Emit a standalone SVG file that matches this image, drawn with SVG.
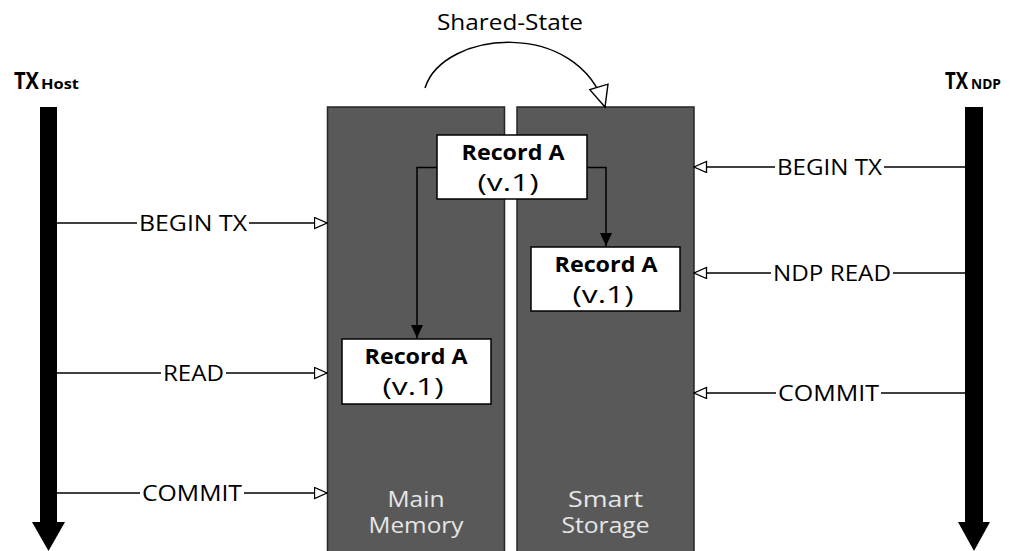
<svg xmlns="http://www.w3.org/2000/svg" width="1010" height="551" viewBox="0 0 1010 551">
  <defs>
    <style>
      .lbl { font-family: "Open Sans", "Noto Sans", sans-serif; font-size: 21px; fill: #000; }
      .store { fill: #595959; stroke: #262626; stroke-width: 1.5; }
      .storetxt { font-family: "Open Sans", "Noto Sans", sans-serif; font-size: 21px; fill: #e6e6e6; text-anchor: middle; }
      .rec { fill: #fff; stroke: #000; stroke-width: 1.5; }
      .rectitle { font-family: "Open Sans", "Noto Sans", sans-serif; font-size: 22px; font-weight: bold; text-anchor: middle; }
      .recver { font-family: "Open Sans", "Noto Sans", sans-serif; font-size: 24px; text-anchor: middle; }
      .txname { font-family: "Open Sans", "Noto Sans", sans-serif; font-weight: bold; }
      .wire { fill: none; stroke: #000; stroke-width: 1.5; }
      .open { marker-end: url(#openHead); }
      .solid { marker-end: url(#solidHead); }
    </style>
    <marker id="openHead" markerUnits="userSpaceOnUse" markerWidth="15" markerHeight="13" refX="13.5" refY="6" orient="auto">
      <path d="M1,0.5 L13.5,6 L1,11.5 Z" fill="#fff" stroke="#000" stroke-width="1.3"/>
    </marker>
    <marker id="solidHead" markerUnits="userSpaceOnUse" markerWidth="14" markerHeight="14" refX="13" refY="6.5" orient="auto">
      <path d="M0,0.5 L13,6.5 L0,12.5 Z" fill="#000"/>
    </marker>
    <marker id="bigOpenHead" markerUnits="userSpaceOnUse" markerWidth="24" markerHeight="22" refX="22" refY="10.5" orient="auto">
      <path d="M1,1 L22,10.5 L1,20 Z" fill="#fff" stroke="#000" stroke-width="1.4"/>
    </marker>
  </defs>

  <rect width="1010" height="551" fill="#fff"/>

  <!-- storage columns -->
  <g id="main-memory">
    <rect class="store" x="327.5" y="107" width="177" height="450"/>
    <text class="storetxt" x="416" y="507" textLength="57" lengthAdjust="spacingAndGlyphs">Main</text>
    <text class="storetxt" x="416" y="533" textLength="95" lengthAdjust="spacingAndGlyphs">Memory</text>
  </g>
  <g id="smart-storage">
    <rect class="store" x="517" y="107" width="177" height="450"/>
    <text class="storetxt" x="605.5" y="507" textLength="75" lengthAdjust="spacingAndGlyphs">Smart</text>
    <text class="storetxt" x="605.5" y="533" textLength="88" lengthAdjust="spacingAndGlyphs">Storage</text>
  </g>

  <!-- transaction timelines -->
  <g id="tx-host">
    <text class="txname" x="14" y="89" font-size="23" textLength="25" lengthAdjust="spacingAndGlyphs">TX</text>
    <text class="txname" x="41" y="89" font-size="15" textLength="38" lengthAdjust="spacingAndGlyphs">Host</text>
    <rect x="40" y="107" width="17" height="416" fill="#000"/>
    <polygon points="32,522 65,522 48.5,551" fill="#000"/>
  </g>
  <g id="tx-ndp">
    <text class="txname" x="945" y="89" font-size="23" textLength="23" lengthAdjust="spacingAndGlyphs">TX</text>
    <text class="txname" x="971" y="89" font-size="15" textLength="30" lengthAdjust="spacingAndGlyphs">NDP</text>
    <rect x="965" y="107" width="18" height="416" fill="#000"/>
    <polygon points="958,522 990,522 974,551" fill="#000"/>
  </g>

  <!-- record copies -->
  <g id="record-shared">
    <rect class="rec" x="437" y="135" width="150" height="64"/>
    <text class="rectitle" x="513" y="160" textLength="103" lengthAdjust="spacingAndGlyphs">Record A</text>
    <text class="recver" x="508" y="191" textLength="61" lengthAdjust="spacingAndGlyphs">(v.1)</text>
  </g>
  <g id="record-storage">
    <rect class="rec" x="531" y="247" width="149" height="64"/>
    <text class="rectitle" x="606" y="272" textLength="103" lengthAdjust="spacingAndGlyphs">Record A</text>
    <text class="recver" x="603" y="303" textLength="61" lengthAdjust="spacingAndGlyphs">(v.1)</text>
  </g>
  <g id="record-memory">
    <rect class="rec" x="342" y="339" width="149" height="65"/>
    <text class="rectitle" x="416" y="364" textLength="103" lengthAdjust="spacingAndGlyphs">Record A</text>
    <text class="recver" x="413" y="395" textLength="61" lengthAdjust="spacingAndGlyphs">(v.1)</text>
  </g>

  <!-- connectors -->
  <g id="connectors">
    <!-- shared state hop -->
    <path class="wire" d="M425,88 C443,30 578,18 605,107" marker-end="url(#bigOpenHead)"/>
    <text class="lbl" x="437" y="30" font-size="22" textLength="146" lengthAdjust="spacingAndGlyphs">Shared-State</text>

    <!-- record copies -->
    <path class="wire solid" d="M437,167.5 H417 V338"/>
    <path class="wire solid" d="M587,167.5 H606 V246"/>

    <!-- host side -->
    <path class="wire" d="M57,223 H137"/>
    <path class="wire open" d="M249,223 H327"/>
    <text class="lbl" x="139" y="231" textLength="108" lengthAdjust="spacingAndGlyphs">BEGIN TX</text>

    <path class="wire" d="M57,373 H161"/>
    <path class="wire open" d="M226,373 H327"/>
    <text class="lbl" x="163" y="381" textLength="61" lengthAdjust="spacingAndGlyphs">READ</text>

    <path class="wire" d="M57,493 H140"/>
    <path class="wire open" d="M244,493 H327"/>
    <text class="lbl" x="142" y="501" textLength="100" lengthAdjust="spacingAndGlyphs">COMMIT</text>

    <!-- storage side -->
    <path class="wire" d="M965,167 H884"/>
    <path class="wire open" d="M775,167 H694"/>
    <text class="lbl" x="777" y="175" textLength="105" lengthAdjust="spacingAndGlyphs">BEGIN TX</text>

    <path class="wire" d="M965,273 H893"/>
    <path class="wire open" d="M771,273 H694"/>
    <text class="lbl" x="773" y="281" textLength="118" lengthAdjust="spacingAndGlyphs">NDP READ</text>

    <path class="wire" d="M965,393 H881"/>
    <path class="wire open" d="M776,393 H694"/>
    <text class="lbl" x="778" y="401" textLength="101" lengthAdjust="spacingAndGlyphs">COMMIT</text>
  </g>
</svg>
